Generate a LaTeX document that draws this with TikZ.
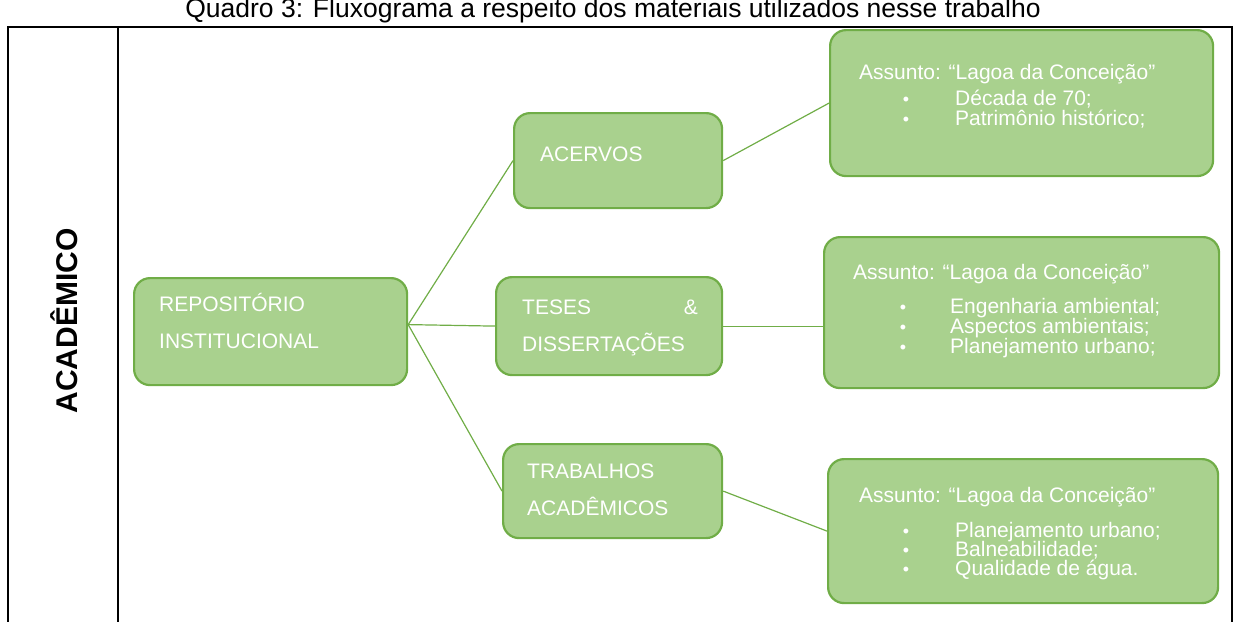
\documentclass[tikz,border=0pt]{standalone}
\usepackage{fontspec}
\setmainfont{Liberation Sans}
\definecolor{boxfill}{HTML}{A9D18E}
\definecolor{boxline}{HTML}{70AD47}
\tikzset{
  greenbox/.style={draw=boxline, fill=boxfill, line width=2.2pt, rounded corners=16pt, inner sep=0pt, anchor=north west},
  boxtext/.style={text=white, anchor=base west, inner sep=0pt, font=\fontsize{21}{24}\selectfont},
  smalltext/.style={text=white, anchor=base west, inner sep=0pt, font=\fontsize{21}{24}\selectfont},
  bullet/.style={text=white, anchor=base, inner sep=0pt, font=\fontsize{18}{24}\selectfont},
  conn/.style={draw=boxline, line width=1.2pt},
  frame/.style={draw=black, line width=1.8pt}
}
\newcommand{\gbox}[5]{\node[greenbox, minimum width=#4-#2, minimum height=#5-#3] (#1) at (#2,#3) {};}
\begin{document}
\begin{tikzpicture}[x=1pt,y=-1pt]
\useasboundingbox (0,0) rectangle (1239,621);
\clip (0,0) rectangle (1239,621);
% title
\node[anchor=base, inner sep=0pt, font=\fontsize{26.5}{30}\selectfont] (title) at (613,17) {Quadro 3: Fluxograma a respeito dos materiais utilizados nesse trabalho};
% table frame
\draw[frame] (8,640) -- (8,27) -- (1232,27) -- (1232,640);
\draw[frame] (118,27) -- (118,640);
\node[rotate=90, inner sep=0pt, font=\bfseries\fontsize{30}{33}\selectfont] (acad) at (64,321) {ACADÊMICO};
% boxes
\gbox{rep}{133}{277}{406}{384}
\gbox{acervos}{513}{112}{721}{207}
\gbox{teses}{495}{276}{721}{374}
\gbox{trab}{502}{443}{721}{537}
\gbox{b1}{829}{29}{1212}{175}
\gbox{b2}{823}{236}{1218}{387}
\gbox{b3}{827}{458}{1217}{602}
\coordinate (repout) at ([yshift=7pt]rep.east);
\coordinate (b2in) at (b2.west |- teses.east);
% connectors
\draw[conn] (repout) -- (acervos.west);
\draw[conn] (repout) -- (teses.west);
\draw[conn] (repout) -- (trab.west);
\draw[conn] (acervos.east) -- (b1.west);
\draw[conn] (teses.east) -- (b2in);
\draw[conn] (trab.east) -- (b3.west);
% texts in level 1 / 2 boxes
\node[boxtext] (t1) at (159,311) {REPOSITÓRIO};
\node[boxtext] (t2) at (159,348) {INSTITUCIONAL};
\node[boxtext] (t3) at (540,161) {ACERVOS};
\node[boxtext] (t4) at (522,314) {TESES};
\node[boxtext, anchor=base east] (t5) at (698,314) {\&};
\node[boxtext] (t6) at (522,351) {DISSERTAÇÕES};
\node[boxtext] (t7) at (527,478) {TRABALHOS};
\node[boxtext] (t8) at (527,515) {ACADÊMICOS};
% box 1
\node[smalltext] (a1) at (859,79) {Assunto: “Lagoa da Conceição”};
\node[bullet] (p11) at (906,105) {•};
\node[smalltext] (s11) at (955,105) {Década de 70;};
\node[bullet] (p12) at (906,125) {•};
\node[smalltext] (s12) at (955,125) {Patrimônio histórico;};
% box 2
\node[smalltext] (a2) at (853,279) {Assunto: “Lagoa da Conceição”};
\node[bullet] (p21) at (903,313) {•};
\node[smalltext] (s21) at (950,313) {Engenharia ambiental;};
\node[bullet] (p22) at (903,333) {•};
\node[smalltext] (s22) at (950,333) {Aspectos ambientais;};
\node[bullet] (p23) at (903,353) {•};
\node[smalltext] (s23) at (950,353) {Planejamento urbano;};
% box 3
\node[smalltext] (a3) at (859,502) {Assunto: “Lagoa da Conceição”};
\node[bullet] (p31) at (906,537) {•};
\node[smalltext] (s31) at (955,537) {Planejamento urbano;};
\node[bullet] (p32) at (906,556) {•};
\node[smalltext] (s32) at (955,556) {Balneabilidade;};
\node[bullet] (p33) at (906,575) {•};
\node[smalltext] (s33) at (955,575) {Qualidade de água.};
\end{tikzpicture}
\end{document}
